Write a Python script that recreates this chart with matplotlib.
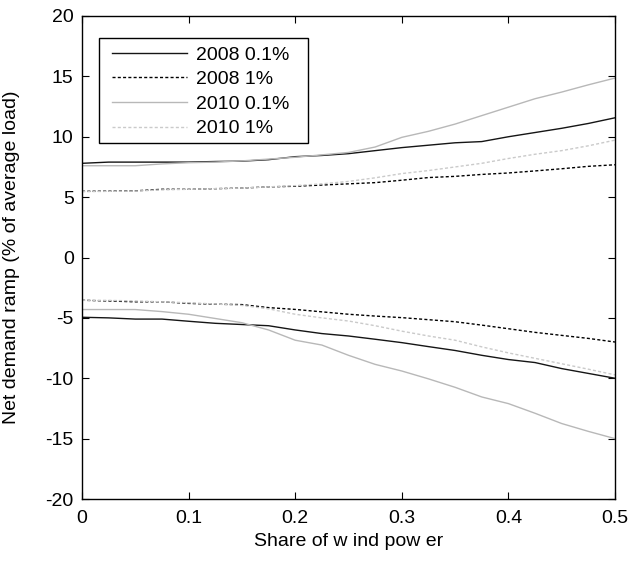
import matplotlib
matplotlib.use("Agg")
import matplotlib.pyplot as plt
from matplotlib.patches import Rectangle

share = [0, .025, .05, .075, .1, .125, .15, .175, .2, .225, .25, .275, .3,
         .325, .35, .375, .4, .425, .45, .475, .5]

up_2008_01 = [7.8, 7.9, 7.9, 7.9, 7.9, 7.95, 7.98, 8.1, 8.35, 8.45, 8.6, 8.85, 9.1,
              9.3, 9.5, 9.6, 10.0, 10.35, 10.7, 11.1, 11.57]
up_2008_1 = [5.48, 5.5, 5.52, 5.65, 5.65, 5.7, 5.75, 5.85, 5.9, 6.0, 6.1, 6.2, 6.4,
             6.62, 6.72, 6.88, 7.0, 7.17, 7.35, 7.55, 7.68]
up_2010_01 = [7.6, 7.6, 7.6, 7.75, 7.85, 7.9, 8.0, 8.15, 8.3, 8.5, 8.7, 9.15, 9.95,
              10.45, 11.05, 11.75, 12.45, 13.15, 13.7, 14.3, 14.86]
up_2010_1 = [5.45, 5.48, 5.5, 5.6, 5.65, 5.7, 5.75, 5.85, 5.95, 6.1, 6.3, 6.6, 6.95,
             7.2, 7.5, 7.8, 8.2, 8.55, 8.85, 9.25, 9.72]

lo_2008_01 = [-4.95, -5.0, -5.1, -5.1, -5.28, -5.45, -5.55, -5.65, -6.0, -6.3, -6.5,
              -6.77, -7.05, -7.38, -7.7, -8.1, -8.45, -8.7, -9.2, -9.6, -10.0]
lo_2008_1 = [-3.54, -3.6, -3.67, -3.67, -3.8, -3.87, -3.9, -4.15, -4.3, -4.5, -4.7,
             -4.85, -4.98, -5.15, -5.32, -5.6, -5.9, -6.2, -6.45, -6.7, -7.0]
lo_2010_01 = [-4.31, -4.31, -4.31, -4.48, -4.7, -5.05, -5.4, -6.0, -6.85, -7.25, -8.1,
              -8.85, -9.4, -10.05, -10.75, -11.55, -12.1, -12.9, -13.75, -14.4, -15.0]
lo_2010_1 = [-3.54, -3.55, -3.6, -3.67, -3.75, -3.85, -3.97, -4.25, -4.7, -5.0, -5.26,
             -5.65, -6.1, -6.5, -6.85, -7.4, -7.9, -8.35, -8.8, -9.25, -9.72]

labels = ["2008 0.1%", "2008 1%", "2010 0.1%", "2010 1%"]
xticks = [0, 0.1, 0.2, 0.3, 0.4, 0.5]
xticklabels = ["0", "0.1", "0.2", "0.3", "0.4", "0.5"]
yticks = [-20, -15, -10, -5, 0, 5, 10, 15, 20]

plt.rcParams['font.family'] = ['Liberation Sans', 'DejaVu Sans']
FS = 14

W, H = 633, 562
fig = plt.figure(figsize=(W/100, H/100), dpi=100)
ax = fig.add_axes([82/W, 1 - 499/H, (615-82)/W, (499-16)/H])

styles = [
    dict(color='#151515', ls='-', lw=1.0),
    dict(color='black', ls=(0, (2.2, 1.6)), lw=1.0),
    dict(color='#b8b8b8', ls='-', lw=1.0),
    dict(color='#cacaca', ls=(0, (2.2, 1.6)), lw=1.0),
]
uppers = [up_2008_01, up_2008_1, up_2010_01, up_2010_1]
lowers = [lo_2008_01, lo_2008_1, lo_2010_01, lo_2010_1]

handles = []
for st, u, lab in zip(styles, uppers, labels):
    h, = ax.plot(share, u, label=lab, **st)
    handles.append(h)
for st, l in zip(styles, lowers):
    ax.plot(share, l, **st)

ax.set_xlim(0, 0.5)
ax.set_ylim(-20, 20)
ax.set_xticks(xticks)
ax.set_xticklabels(xticklabels)
ax.set_yticks(yticks)
ax.set_yticklabels([str(v) for v in yticks])
ax.tick_params(direction='in', top=True, right=True, length=5, width=0.8,
               labelsize=FS)
ax.tick_params(axis='x', pad=8)
ax.tick_params(axis='y', pad=6)
for s in ax.spines.values():
    s.set_linewidth(1.0)
    s.set_color('black')

ax.set_xlabel("Share of w ind pow er", fontsize=FS, labelpad=4)
ax.set_ylabel("Net demand ramp (% of average load)", fontsize=FS)
ax.yaxis.set_label_coords((20 - 82) / 533, 0.5)

# legend (frame drawn separately for MATLAB-like padding)
leg = ax.legend(handles=handles, loc='upper left',
                bbox_to_anchor=(115/W - 0.004, 1 - 46/H),
                bbox_transform=fig.transFigure,
                borderaxespad=0, borderpad=0.0, fontsize=FS, frameon=False,
                handlelength=3.85, handletextpad=0.45, labelspacing=0.36)
box = Rectangle((99/W, 1 - 143/H), (308-99)/W, (143-38)/H,
                transform=fig.transFigure, facecolor='white', edgecolor='black',
                linewidth=1.0, zorder=4)
fig.add_artist(box)
leg.set_zorder(5)
fig.add_artist(leg)

fig.savefig("out.png", dpi=100)
